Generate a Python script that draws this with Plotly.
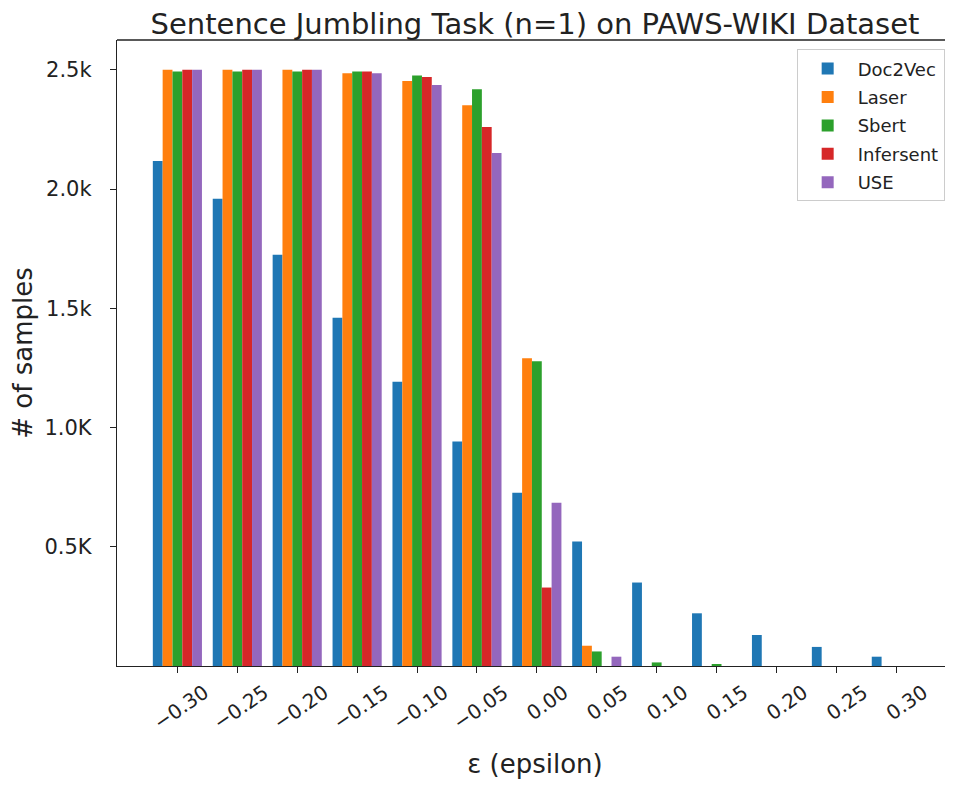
import plotly.graph_objects as go

# ---- data ----
epsilon = [-0.30, -0.25, -0.20, -0.15, -0.10, -0.05, 0.00, 0.05, 0.10, 0.15, 0.20, 0.25, 0.30]
tick_labels = ["−0.30", "−0.25", "−0.20", "−0.15", "−0.10", "−0.05", "0.00",
               "0.05", "0.10", "0.15", "0.20", "0.25", "0.30"]
doc2vec   = [2118, 1959, 1725, 1460, 1192, 941, 726, 522, 350, 221, 130, 80, 39]
laser     = [2500, 2500, 2500, 2486, 2453, 2351, 1290, 85, 0, 0, 0, 0, 0]
sbert     = [2493, 2493, 2493, 2493, 2476, 2419, 1278, 61, 15, 7, 0, 0, 0]
infersent = [2500, 2500, 2500, 2493, 2470, 2260, 329, 0, 0, 0, 0, 0, 0]
use       = [2500, 2500, 2500, 2486, 2436, 2151, 685, 39, 0, 0, 0, 0, 0]

series_names = ["Doc2Vec", "Laser", "Sbert", "Infersent", "USE"]
series_values = [doc2vec, laser, sbert, infersent, use]
colors = ["#1f77b4", "#ff7f0e", "#2ca02c", "#d62728", "#9467bd"]

y_tickvals = [500, 1000, 1500, 2000, 2500]
y_ticktext = ["0.5K", "1.0K", "1.5k", "2.0k", "2.5k"]

FONT = "DejaVu Sans"
OFF = 8  # default page body margin of the html page

fig = go.Figure()
for name, vals, col in zip(series_names, series_values, colors):
    fig.add_trace(go.Bar(
        x=epsilon, y=vals, name=name, legendgroup=name,
        marker=dict(color=col, line=dict(width=0)),
    ))

H = 785 - OFF
fig.update_layout(
    width=953 - OFF, height=H,
    barmode="group", bargap=0.18, bargroupgap=0,
    plot_bgcolor="white", paper_bgcolor="white",
    margin=dict(l=117 - OFF, r=0, t=40 - OFF, b=H - (666 - OFF)),
    font=dict(family=FONT, color="#222"),
    title=dict(text="Sentence Jumbling Task (n=1) on PAWS-WIKI Dataset",
               x=0.5, xref="paper", xanchor="center",
               y=1 - (24 - OFF) / H, yref="container", yanchor="middle",
               font=dict(family=FONT, size=29, color="#222")),
    legend=dict(x=0.813, xanchor="left", y=0.985, yanchor="top",
                bordercolor="#cccccc", borderwidth=1, bgcolor="rgba(255,255,255,0.8)",
                font=dict(family=FONT, size=18, color="#222"),
                itemwidth=50, tracegroupgap=2),
    xaxis=dict(range=[-0.3504, 0.3473], tickvals=epsilon, ticktext=tick_labels,
               tickangle=-35, ticks="outside", ticklen=6, tickwidth=1.3, tickcolor="#222",
               showline=True, linecolor="#222", linewidth=1.3, showgrid=False, zeroline=False,
               tickfont=dict(family=FONT, size=20, color="#222"),
               ticklabelshift=27, automargin=False,
               title=dict(text="ε (epsilon)", standoff=21,
                          font=dict(family=FONT, size=26, color="#222"))),
    yaxis=dict(range=[0, 2625], tickvals=y_tickvals, ticktext=y_ticktext,
               ticks="outside", ticklen=6, tickwidth=1.3, tickcolor="#222",
               showline=True, linecolor="#222", linewidth=1.3, showgrid=False, zeroline=False,
               tickfont=dict(family=FONT, size=21, color="#222"),
               ticklabelstandoff=14, automargin=False,
               title=dict(text="# of samples", standoff=5,
                          font=dict(family=FONT, size=26, color="#222"))),
)
# top spine
fig.add_shape(type="line", xref="paper", yref="paper", x0=0, x1=1, y0=1, y1=1,
              line=dict(color="#222", width=1.3))

fig.write_html("out.html")
